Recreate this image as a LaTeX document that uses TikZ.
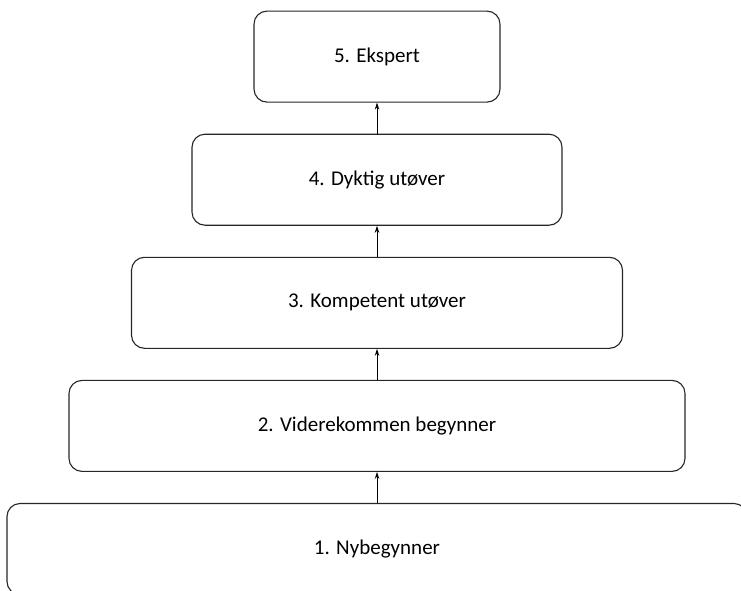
\documentclass[tikz,border=0pt]{standalone}
\usepackage{fontspec}
\setmainfont{Carlito}
\usetikzlibrary{positioning,arrows.meta}

\tikzset{
  level/.style={draw=black!85, line width=1.1pt, rounded corners=13pt,
    minimum height=91pt, inner sep=0pt, font=\fontsize{21}{25}\selectfont},
  up/.style={-{Stealth[length=7pt,width=4.5pt]}, line width=0.9pt}
}

\begin{document}
\begin{tikzpicture}[x=1pt,y=-1pt,node distance=31pt]
  \useasboundingbox (0,0) rectangle (741,591);
  % levels, bottom to top
  \node[level, minimum width=740pt] (nyb) at (377,549) {1. Nybegynner};
  \node[level, minimum width=616pt, above=of nyb] (vid) {2. Viderekommen begynner};
  \node[level, minimum width=491pt, above=of vid] (komp) {3. Kompetent utøver};
  \node[level, minimum width=370pt, above=of komp] (dykt) {4. Dyktig utøver};
  \node[level, minimum width=246pt, above=of dykt] (eksp) {5. Ekspert};
  % arrows
  \draw[up] (nyb) -- (vid);
  \draw[up] (vid) -- (komp);
  \draw[up] (komp) -- (dykt);
  \draw[up] (dykt) -- (eksp);
\end{tikzpicture}
\end{document}
